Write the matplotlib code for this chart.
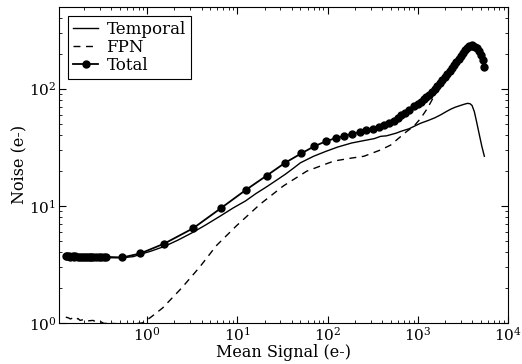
import matplotlib
matplotlib.use("Agg")
import matplotlib.pyplot as plt

# Temporal noise (solid line)
temporal_x = [0.125, 0.13, 0.14, 0.15, 0.16, 0.17, 0.18, 0.2, 0.22, 0.24, 0.26, 0.28, 0.3,
              0.33, 0.36, 0.45, 0.53, 0.7, 0.84, 1.1, 1.55, 2.2, 3.22, 4.5, 6.5, 9.0, 12.3,
              16.0, 21.0, 27.0, 34.0, 42.0, 50.0, 70.0, 96.0, 130.0, 185.0, 250.0, 330.0,
              387.0, 450.0, 500.0, 580.0, 646.0, 800.0, 950.0, 1080.0, 1300.0, 1550.0,
              1800.0, 2050.0, 2330.0, 2600.0, 2900.0, 3260.0, 3550.0, 3800.0, 4000.0,
              4240.0, 4500.0, 4820.0, 5150.0, 5480.0]
temporal_y = [3.68, 3.66, 3.67, 3.64, 3.66, 3.63, 3.65, 3.62, 3.64, 3.61, 3.63, 3.6, 3.62,
              3.61, 3.6, 3.6, 3.6, 3.68, 3.85, 4.1, 4.5, 5.1, 5.94, 6.9, 8.2, 9.6, 11.0,
              12.7, 14.5, 16.5, 18.6, 21.0, 23.3, 26.5, 29.2, 31.8, 34.4, 36.0, 37.5,
              39.2, 39.6, 40.5, 41.8, 43.2, 45.5, 48.5, 50.8, 53.5, 56.5,
              59.9, 63.5, 67.0, 69.5, 71.5, 73.6, 75.0, 74.5, 72.0,
              63.8, 52.0, 40.5, 32.0, 26.5]

# Fixed pattern noise (dashed line)
fpn_x = [0.125, 0.135, 0.14, 0.15, 0.16, 0.17, 0.18, 0.2, 0.22, 0.25, 0.27, 0.3, 0.33,
         0.4, 0.5, 0.6, 0.7, 0.8, 0.89, 1.1, 1.48, 2.4, 3.82, 5.86, 9.8, 17.8, 32.4,
         59.0, 117.0, 180.0, 253.0, 387.0, 500.0, 620.0, 750.0, 910.0, 1080.0, 1280.0,
         1500.0, 1800.0, 2400.0, 3000.0, 3500.0, 3900.0, 4300.0, 4800.0, 5480.0]
fpn_y = [1.12, 1.1, 1.08, 1.1, 1.06, 1.09, 1.05, 1.07, 1.04, 1.05, 1.02, 1.03, 0.99,
         0.99, 0.98, 0.98, 0.98, 0.99, 1.0, 1.12, 1.34, 1.98, 3.0, 4.58, 6.77, 10.3, 14.8,
         19.8, 24.1, 25.5, 26.5, 30.0, 33.0, 38.0, 43.0, 48.0, 56.0, 68.0,
         85.0, 107.0, 145.0, 188.0, 218.0, 228.0, 222.0, 200.0, 150.0]

# Total noise (line with dots)
total_x = [0.125, 0.13, 0.135, 0.14, 0.15, 0.155, 0.16, 0.17, 0.18, 0.19, 0.2, 0.21,
           0.22, 0.23, 0.24, 0.25, 0.27, 0.29, 0.31, 0.33, 0.35, 0.53, 0.84, 1.55, 3.22,
           6.5, 12.3, 21.1, 33.8, 51.0, 71.0, 96.0, 124.0, 151.0, 185.0, 228.0, 270.0,
           320.0, 370.0, 420.0, 480.0, 540.0, 600.0, 660.0, 720.0, 800.0, 900.0, 1000.0,
           1080.0, 1160.0, 1250.0, 1340.0, 1440.0, 1540.0, 1650.0, 1760.0, 1880.0,
           2000.0, 2130.0, 2260.0, 2400.0, 2540.0, 2690.0, 2840.0, 3000.0, 3160.0,
           3330.0, 3500.0, 3680.0, 3870.0, 4000.0, 4150.0, 4300.0, 4500.0, 4800.0,
           5000.0, 5250.0, 5480.0]
total_y = [3.72, 3.7, 3.71, 3.68, 3.7, 3.67, 3.69, 3.66, 3.68, 3.65, 3.67, 3.64,
           3.66, 3.63, 3.65, 3.64, 3.66, 3.63, 3.65, 3.68, 3.66, 3.62, 3.92, 4.76, 6.42,
           9.49, 13.6, 18.1, 23.3, 28.0, 32.2, 35.6, 37.9, 39.4, 41.3, 42.6, 44.0,
           45.5, 47.0, 48.8, 51.0, 53.5, 56.0, 59.5, 62.5, 66.0, 71.0, 74.0,
           77.6, 81.0, 85.0, 89.0, 94.0, 99.0, 105.0, 112.0, 118.0,
           125.0, 133.0, 141.0, 150.0, 159.0, 169.0, 180.0, 192.0, 203.0,
           214.0, 223.0, 230.0, 234.0, 235.0, 233.0, 229.0, 224.0, 210.0,
           193.0, 175.0, 153.0]

plt.rcParams["font.family"] = "DejaVu Serif"
plt.rcParams["mathtext.fontset"] = "dejavuserif"

fig = plt.figure(figsize=(5.22, 3.64), dpi=100)
ax = fig.add_axes([0.113, 0.113, 0.86, 0.868])

ax.plot(temporal_x, temporal_y, color="black", linewidth=1.0, label="Temporal")
ax.plot(fpn_x, fpn_y, color="black", linewidth=1.0, linestyle=(0, (5, 4)), label="FPN")
ax.plot(total_x, total_y, color="black", linewidth=1.3, marker="o", markersize=5,
        label="Total")

ax.set_xscale("log")
ax.set_yscale("log")
ax.set_xlim(0.105, 1e4)
ax.set_ylim(1, 500)
ax.tick_params(which="both", direction="in", top=True, right=True, labelsize=11, pad=2)
ax.tick_params(which="major", length=5)
ax.tick_params(which="minor", length=2.5)
ax.set_xlabel("Mean Signal (e-)", fontsize=11.5, labelpad=0)
ax.set_ylabel("Noise (e-)", fontsize=11.5, labelpad=0)

leg = ax.legend(loc="upper left", fontsize=12, fancybox=False, framealpha=1,
                edgecolor="black", labelspacing=0.05, handlelength=1.5,
                handletextpad=0.5, borderpad=0.3, borderaxespad=0.55)
leg.get_frame().set_linewidth(0.8)

fig.savefig("out.png", dpi=100)
